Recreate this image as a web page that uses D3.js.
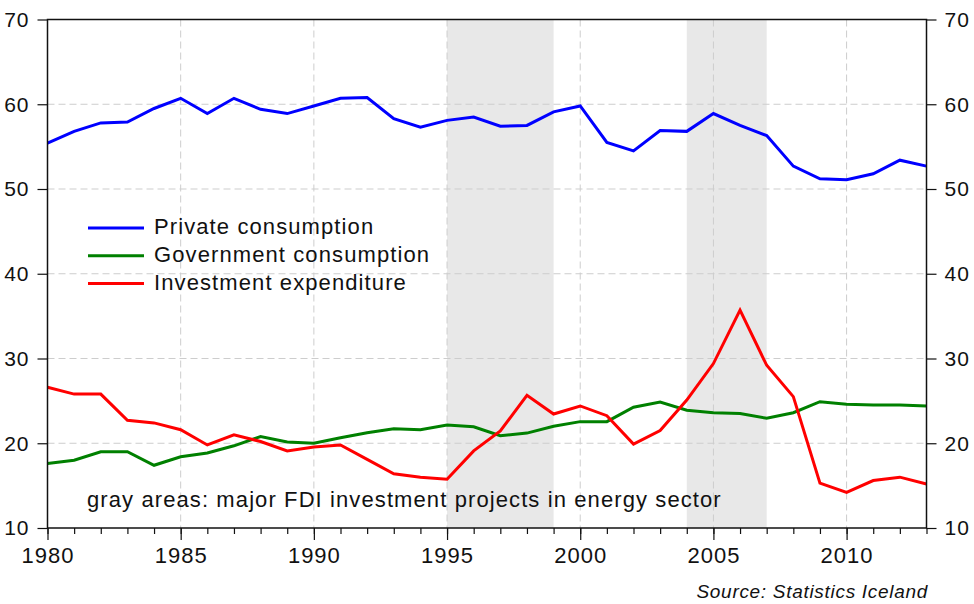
<!DOCTYPE html>
<html>
<head>
<meta charset="utf-8">
<script src="https://cdn.jsdelivr.net/npm/d3@7"></script>
<style>
  body { margin: 0; background: #fff; }
  svg { display: block; font-family: "Liberation Sans", Arial, sans-serif; }
  .axis text { fill: #111; letter-spacing: 1px; }
  .axis path.domain { display: none; }
  .axis line { stroke: #111; stroke-width: 1.2; }
</style>
</head>
<body>
<svg id="chart" width="974" height="604"></svg>
<script>
const years = [1980, 1981, 1982, 1983, 1984, 1985, 1986, 1987, 1988, 1989,
  1990, 1991, 1992, 1993, 1994, 1995, 1996, 1997, 1998, 1999,
  2000, 2001, 2002, 2003, 2004, 2005, 2006, 2007, 2008, 2009,
  2010, 2011, 2012, 2013]

const privateConsumption = [55.4, 56.8, 57.8, 57.9, 59.5, 60.7, 58.9, 60.7, 59.4, 58.9,
  59.8, 60.7, 60.8, 58.3, 57.3, 58.1, 58.5, 57.4, 57.5, 59.1,
  59.8, 55.5, 54.5, 56.9, 56.8, 58.9, 57.5, 56.3, 52.7, 51.2,
  51.1, 51.8, 53.4, 52.7]

const governmentConsumption = [17.6, 18.0, 19.0, 19.0, 17.4, 18.4, 18.85, 19.7, 20.8, 20.15,
  20.0, 20.65, 21.25, 21.7, 21.6, 22.15, 21.95, 20.9, 21.2, 22.0,
  22.55, 22.55, 24.25, 24.85, 23.9, 23.6, 23.5, 22.95, 23.6, 24.9,
  24.6, 24.5, 24.5, 24.4]

const investmentExpenditure = [26.6, 25.8, 25.8, 22.7, 22.4, 21.6, 19.8, 21.0, 20.2, 19.1,
  19.55, 19.8, 18.1, 16.4, 16.0, 15.75, 19.1, 21.45, 25.65, 23.45,
  24.4, 23.25, 19.9, 21.5, 25.1, 29.4, 35.7, 29.2, 25.5, 15.3,
  14.2, 15.6, 16.0, 15.2]

const seriesNames = ['Private consumption', 'Government consumption', 'Investment expenditure']
const seriesColors = ['#0000ff', '#008000', '#ff0000']

// gray areas: start / end year of FDI projects
const bandStarts = [1995, 2004]
const bandEnds = [1999, 2007]

const yTicks = [10, 20, 30, 40, 50, 60, 70]
const yGrid = [20, 30, 40, 50, 60]
const xMajor = [1980, 1985, 1990, 1995, 2000, 2005, 2010]
const xGrid = [1985, 1990, 1995, 2000, 2005, 2010]

const noteText = 'gray areas: major FDI investment projects in energy sector'
const sourceText = 'Source: Statistics Iceland'

const svg = d3.select('#chart')
const plotLeft = 47.5, plotRight = 926.5, plotTop = 19.5, plotBottom = 528

const x = d3.scaleLinear().domain([1980, 2013]).range([plotLeft, plotRight])
const y = d3.scaleLinear().domain([10, 70]).range([plotBottom, plotTop])

// shaded periods
svg.append('g')
  .selectAll('rect')
  .data(bandStarts.map((s, i) => [s, bandEnds[i]]))
  .join('rect')
    .attr('x', d => x(d[0]))
    .attr('y', plotTop)
    .attr('width', d => x(d[1]) - x(d[0]))
    .attr('height', plotBottom - plotTop)
    .attr('fill', '#e8e8e8')

// grid
const grid = svg.append('g')
  .attr('stroke', '#cdcdcd')
  .attr('stroke-width', 1)
  .attr('stroke-dasharray', '7,4')
grid.selectAll('line.h')
  .data(yGrid)
  .join('line')
    .attr('class', 'h')
    .attr('x1', plotLeft).attr('x2', plotRight)
    .attr('y1', d => y(d)).attr('y2', d => y(d))
grid.selectAll('line.v')
  .data(xGrid)
  .join('line')
    .attr('class', 'v')
    .attr('x1', d => x(d)).attr('x2', d => x(d))
    .attr('y1', plotTop).attr('y2', plotBottom)

// series
const series = [privateConsumption, governmentConsumption, investmentExpenditure]
const line = d3.line()
  .x((d, i) => x(years[i]))
  .y(d => y(d))

svg.append('g')
  .selectAll('path')
  .data(series)
  .join('path')
    .attr('d', line)
    .attr('fill', 'none')
    .attr('stroke', (d, i) => seriesColors[i])
    .attr('stroke-width', 3)

// frame
svg.append('rect')
  .attr('x', plotLeft).attr('y', plotTop)
  .attr('width', plotRight - plotLeft).attr('height', plotBottom - plotTop)
  .attr('fill', 'none')
  .attr('stroke', '#111')
  .attr('stroke-width', 1.5)

// axes
svg.append('g')
  .attr('class', 'axis')
  .attr('transform', `translate(${plotLeft},0)`)
  .call(d3.axisLeft(y).tickValues(yTicks).tickSize(10).tickPadding(8))
  .call(g => g.selectAll('text').attr('font-size', 21).attr('font-family', null).attr('dy', '0.33em'))

svg.append('g')
  .attr('class', 'axis')
  .attr('transform', `translate(${plotRight},0)`)
  .call(d3.axisRight(y).tickValues(yTicks).tickSize(10).tickPadding(8))
  .call(g => g.selectAll('text').attr('font-size', 21).attr('font-family', null).attr('dy', '0.33em'))

svg.append('g')
  .attr('class', 'axis')
  .attr('transform', `translate(0,${plotBottom})`)
  .call(d3.axisBottom(x).tickValues(years).tickSize(6).tickFormat(''))

svg.append('g')
  .attr('class', 'axis')
  .attr('transform', `translate(0,${plotBottom})`)
  .call(d3.axisBottom(x).tickValues(xMajor).tickSize(12).tickPadding(7).tickFormat(d3.format('d')))
  .call(g => g.selectAll('text').attr('font-size', 22).attr('font-family', null))

// legend
const legend = svg.append('g')
  .attr('transform', 'translate(88,228)')
  .selectAll('g')
  .data(seriesNames)
  .join('g')
    .attr('transform', (d, i) => `translate(0,${i * 27.8})`)
legend.append('line')
  .attr('x1', 0).attr('x2', 56)
  .attr('stroke', (d, i) => seriesColors[i])
  .attr('stroke-width', 3)
legend.append('text')
  .attr('x', 66)
  .attr('y', 6)
  .attr('font-size', 22)
  .attr('letter-spacing', 1.1)
  .attr('fill', '#111')
  .text(d => d)

// note
svg.append('text')
  .attr('x', 87)
  .attr('y', 506.5)
  .attr('font-size', 22)
  .attr('letter-spacing', 1.1)
  .attr('fill', '#111')
  .text(noteText)

// source
svg.append('text')
  .attr('x', 928)
  .attr('y', 598)
  .attr('text-anchor', 'end')
  .attr('font-size', 19)
  .attr('font-style', 'italic')
  .attr('letter-spacing', 0.7)
  .attr('fill', '#111')
  .text(sourceText)
</script>
</body>
</html>
